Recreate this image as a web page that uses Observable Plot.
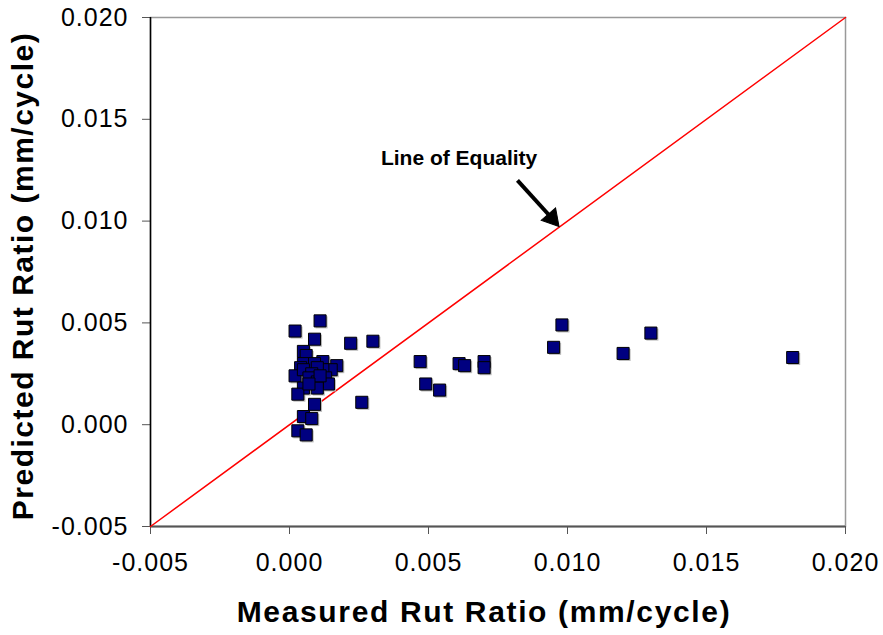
<!DOCTYPE html>
<html>
<head>
<meta charset="utf-8">
<script src="https://cdn.jsdelivr.net/npm/d3@7"></script>
<script src="https://cdn.jsdelivr.net/npm/@observablehq/plot@0.6"></script>
<style>
  html, body { margin: 0; padding: 0; background: #fff; }
  #chart svg { display: block; }
</style>
</head>
<body>
<div id="chart"></div>
<script>
const measured = [
  0.0011, 0.0002, 0.0009, 0.0005, 0.0006, 0.0005, 0.0004, 0.0012, 0.0009, 0.0017,
  0.0015, 0.0002, 0.0012, 0.0010, 0.0005, 0.0008, 0.0007, 0.0013, 0.0014, 0.0010,
  0.0005, 0.0003, 0.0010, 0.0009, 0.0005, 0.0008, 0.0003, 0.0006, 0.0011, 0.0007,
  0.0022, 0.0030, 0.0026, 0.0047, 0.0049, 0.0054, 0.0061, 0.0063, 0.0070, 0.0070,
  0.0095, 0.0098, 0.0120, 0.0130, 0.0181
];
const predicted = [
  0.0051, 0.0046, 0.0042, 0.0036, 0.0034, 0.0030, 0.0028, 0.0031, 0.0030, 0.0029,
  0.0027, 0.0024, 0.0027, 0.0028, 0.0027, 0.0025, 0.0023, 0.0023, 0.0020, 0.0021,
  0.0018, 0.0015, 0.0018, 0.0010, 0.0004, 0.0003, -0.0003, -0.0005, 0.0024, 0.0020,
  0.0040, 0.0041, 0.0011, 0.0031, 0.0020, 0.0017, 0.0030, 0.0029, 0.0031, 0.0028,
  0.0038, 0.0049, 0.0035, 0.0045, 0.0033
];
const equalityLine = [-0.005, 0.020];
const xTicks = [-0.005, 0.000, 0.005, 0.010, 0.015, 0.020];
const yTicks = [-0.005, 0.000, 0.005, 0.010, 0.015, 0.020];
const xTitle = "Measured Rut Ratio (mm/cycle)";
const yTitle = "Predicted Rut Ratio (mm/cycle)";
const annotationText = "Line of Equality";
const annotationPos = [0.0061, 0.0131];
const arrowFrom = [0.0082, 0.0120];
const arrowHead = [0.00944, 0.01014];

const points = measured.map((m, i) => ({m, p: predicted[i]}));
const fmt = v => v.toFixed(3);

const chart = Plot.plot({
  width: 883,
  height: 635,
  marginLeft: 150,
  marginRight: 38,
  marginTop: 17,
  marginBottom: 109,
  style: {fontFamily: "'Liberation Sans', Arial, sans-serif", background: "#fff", overflow: "visible"},
  x: {domain: [-0.005, 0.020]},
  y: {domain: [-0.005, 0.020]},
  marks: [
    Plot.frame({stroke: "#999", strokeWidth: 1.5}),
    Plot.axisX({ticks: xTicks, tickFormat: fmt, tickSize: 8, tickPadding: 19, fontSize: 25, label: null, stroke: "#555", color: "#000"}),
    Plot.axisY({ticks: yTicks, tickFormat: fmt, tickSize: 8, tickPadding: 14, fontSize: 25, label: null, stroke: "#555", color: "#000"}),
    Plot.ruleY([equalityLine[0]], {stroke: "#555", strokeWidth: 2}),
    Plot.ruleX([equalityLine[0]], {stroke: "#000", strokeWidth: 1.5}),
    Plot.line(equalityLine.map(v => ({v})), {x: "v", y: "v", stroke: "#ff0000", strokeWidth: 1.5}),
    Plot.dot(points, {x: "m", y: "p", symbol: "square", r: 6.8, fill: "#bbb", stroke: "none", dx: 1.5, dy: 1.5}),
    Plot.dot(points, {x: "m", y: "p", symbol: "square", r: 6.8, fill: "#000080", stroke: "#000", strokeWidth: 1}),
    Plot.text([annotationText], {x: annotationPos[0], y: annotationPos[1], fontSize: 21, fontWeight: "bold", fill: "#000"}),
    Plot.link([{x1: arrowFrom[0], y1: arrowFrom[1], x2: arrowHead[0], y2: arrowHead[1]}], {x1: "x1", y1: "y1", x2: "x2", y2: "y2", stroke: "#000", strokeWidth: 4}),
    Plot.dot([{x: arrowHead[0], y: arrowHead[1]}], {x: "x", y: "y", symbol: "triangle", r: 7, rotate: 139.5, fill: "#000", stroke: "#000", strokeWidth: 1}),
    Plot.text([xTitle], {frameAnchor: "bottom", dx: -14, dy: 86, fontSize: 30, fontWeight: "bold", fill: "#000", lineAnchor: "middle", textAnchor: "middle"}),
    Plot.text([yTitle], {frameAnchor: "left", dx: -127, dy: 4, rotate: -90, fontSize: 30, fontWeight: "bold", fill: "#000", lineAnchor: "middle", textAnchor: "middle"})
  ]
});
const svg = d3.select(chart);
svg.selectAll("text").each(function() {
  const t = this.textContent;
  if (t === xTitle) d3.select(this).style("letter-spacing", "1.65px");
  else if (t === yTitle) d3.select(this).style("letter-spacing", "1.5px");
  else if (/^-?\d\.\d{3}$/.test(t)) d3.select(this).style("letter-spacing", "1px");
});
document.getElementById("chart").appendChild(chart);
</script>
</body>
</html>
